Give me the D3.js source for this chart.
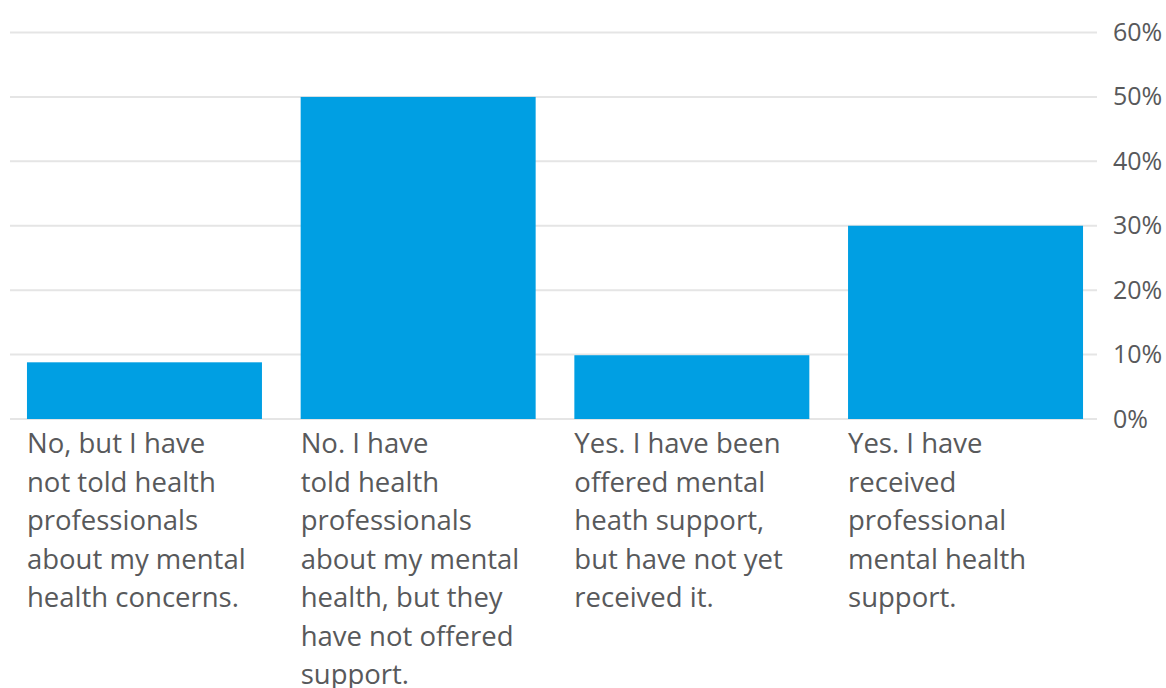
<!DOCTYPE html>
<html>
<head>
<meta charset="utf-8">
<script src="https://cdn.jsdelivr.net/npm/d3@7"></script>
<style>
  html, body { margin: 0; padding: 0; background: #fff; }
  svg { display: block; }
  text { font-family: "Open Sans", "Noto Sans", sans-serif; fill: #58595b; }
</style>
</head>
<body>
<svg id="chart" width="1166" height="688"></svg>
<script>
// Survey responses: share of respondents per answer
const categories = [
  "No, but I have not told health professionals about my mental health concerns.",
  "No. I have told health professionals about my mental health, but they have not offered support.",
  "Yes. I have been offered mental heath support, but have not yet received it.",
  "Yes. I have received professional mental health support."
];
const labelLines = [
  ["No, but I have", "not told health", "professionals", "about my mental", "health concerns."],
  ["No. I have", "told health", "professionals", "about my mental", "health, but they", "have not offered", "support."],
  ["Yes. I have been", "offered mental", "heath support,", "but have not yet", "received it."],
  ["Yes. I have", "received", "professional", "mental health", "support."]
];
const values = [8.8, 50, 9.9, 30];
const yTicks = [0, 10, 20, 30, 40, 50, 60];

const svg = d3.select("#chart");
const gridLeft = 10, gridRight = 1097;
const yTop = 32.5, yBottom = 419;

const x = d3.scaleBand()
  .domain(categories)
  .range([10, 1100])
  .paddingInner(0.1414)
  .paddingOuter(0.062);

const y = d3.scaleLinear().domain([0, 60]).range([yBottom, yTop]);

// Gridlines and right-hand percentage axis
const grid = svg.append("g");
grid.selectAll("line")
  .data(yTicks)
  .join("line")
  .attr("x1", gridLeft)
  .attr("x2", gridRight)
  .attr("y1", d => y(d))
  .attr("y2", d => y(d))
  .attr("stroke", "#e5e5e5")
  .attr("stroke-width", 2);

const yAxis = d3.axisRight(y)
  .tickValues(yTicks)
  .tickFormat(d => d + "%")
  .tickSize(0)
  .tickPadding(0);

svg.append("g")
  .attr("transform", `translate(1113,0)`)
  .call(yAxis)
  .call(g => g.select(".domain").remove())
  .selectAll("text")
  .attr("font-size", 25)
  .attr("font-family", "\"Open Sans\", \"Noto Sans\", sans-serif")
  .attr("fill", "#58595b");

// Bars
svg.append("g")
  .selectAll("rect")
  .data(values)
  .join("rect")
  .attr("x", (d, i) => x(categories[i]))
  .attr("width", x.bandwidth())
  .attr("y", d => y(d))
  .attr("height", d => y(0) - y(d))
  .attr("fill", "#009fe3");

// Category labels, wrapped under each bar
const labels = svg.append("g")
  .selectAll("text")
  .data(labelLines)
  .join("text")
  .attr("x", (d, i) => x(categories[i]))
  .attr("y", 453)
  .attr("font-size", 27.5);

labels.selectAll("tspan")
  .data(d => d)
  .join("tspan")
  .attr("x", function() { return d3.select(this.parentNode).attr("x"); })
  .attr("dy", (d, i) => i === 0 ? 0 : 38.5)
  .text(d => d);
</script>
</body>
</html>
